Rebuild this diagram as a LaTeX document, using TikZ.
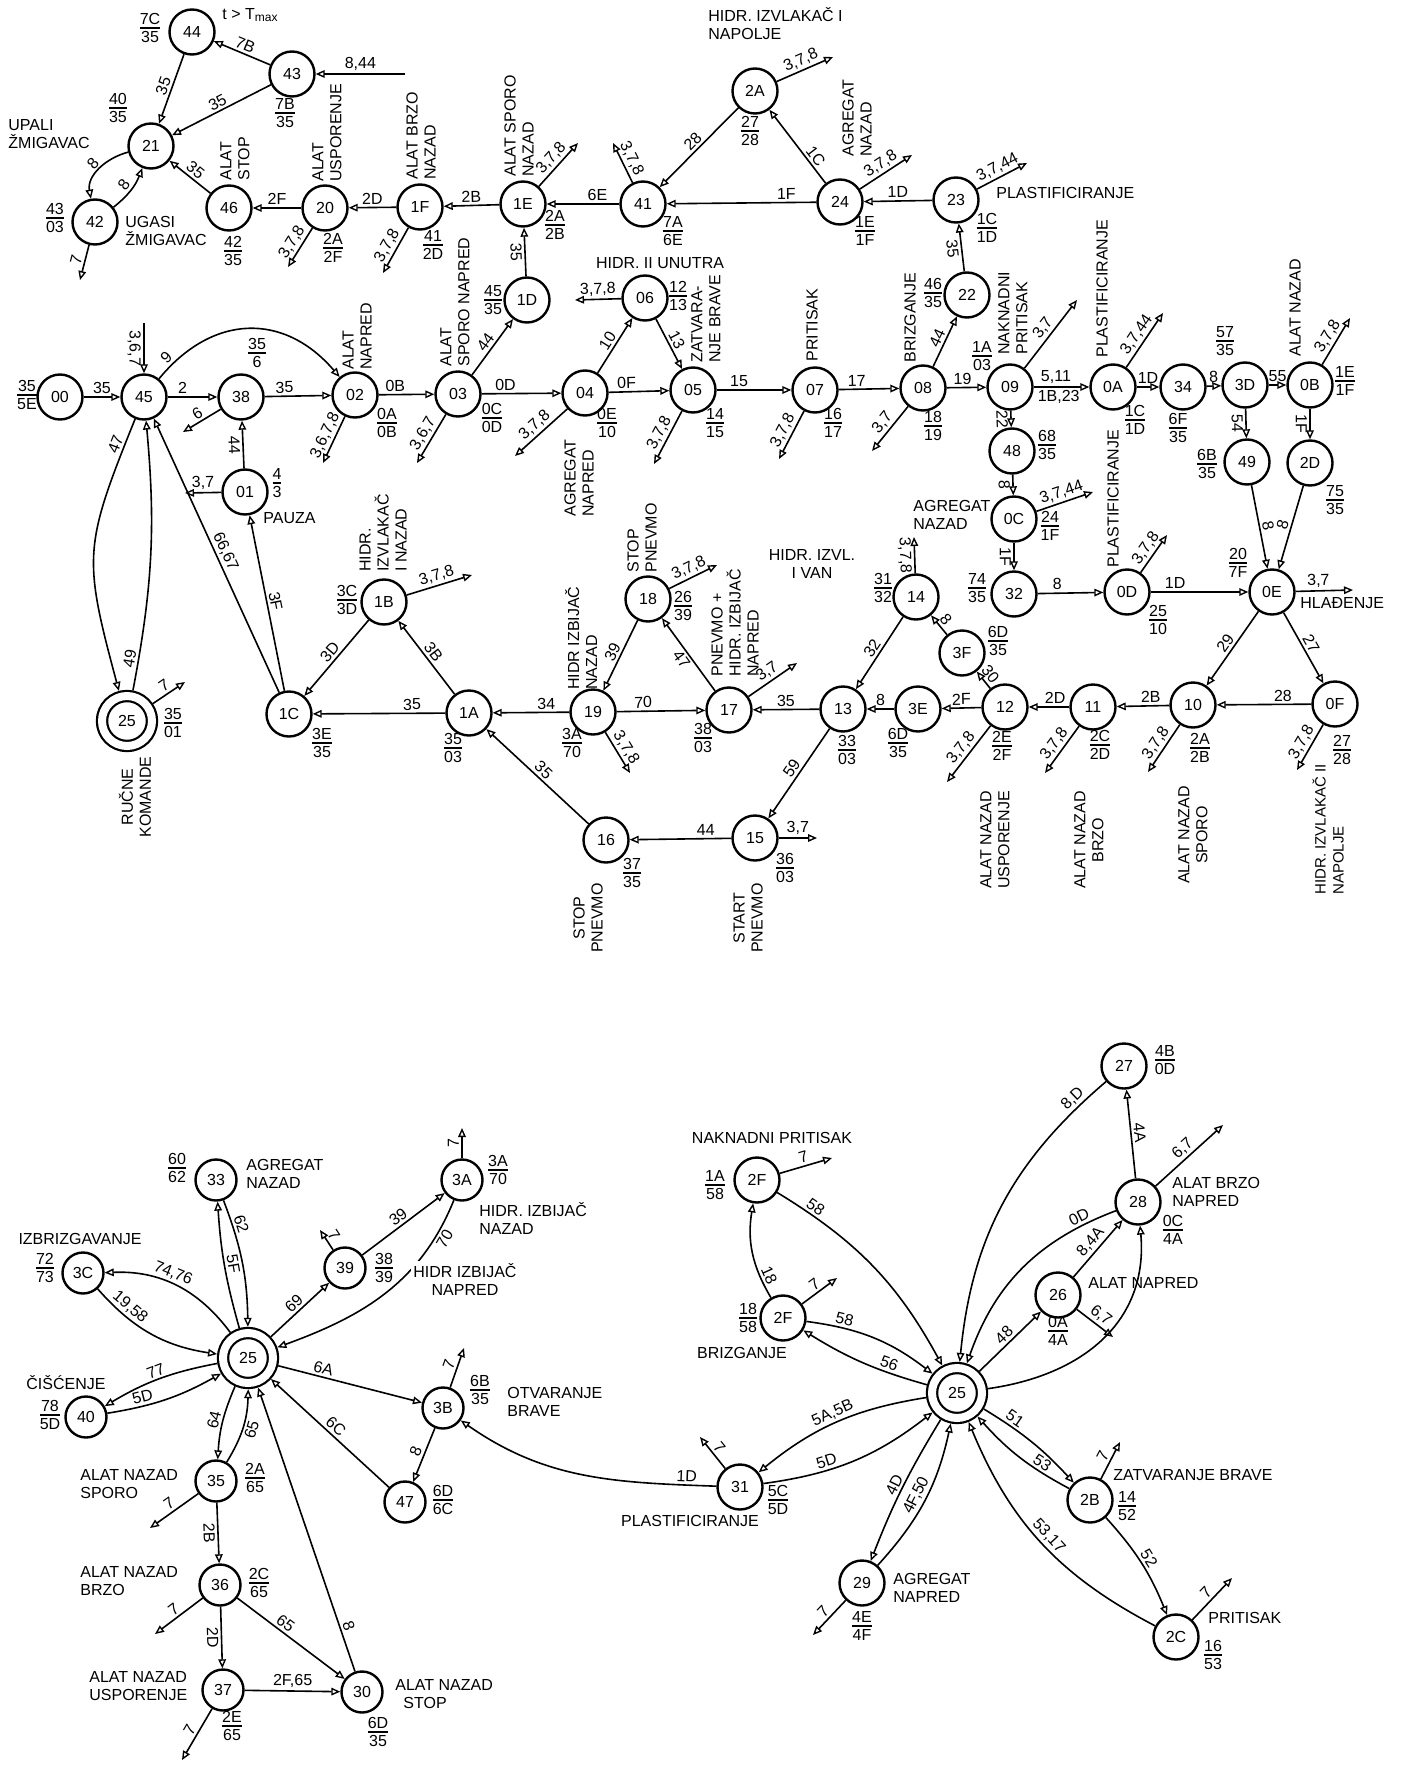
\documentclass[tikz,border=0pt]{standalone}
\usepackage{fontspec}
\setmainfont{Liberation Sans}
\usetikzlibrary{arrows.meta}
\setlength\arrayrulewidth{0.7pt}
\newcommand\frc[2]{\begin{tabular}{@{}c@{}}#1\\[-1.5pt]\hline\rule{0pt}{6.8pt}#2\end{tabular}}
\begin{document}
\begin{tikzpicture}[x=0.5pt,y=-0.5pt,font=\fontsize{8}{9}\selectfont,
 st/.style={circle,draw,line width=1.2pt,minimum size=22.5pt,inner sep=0pt},
 sts/.style={circle,draw,line width=1.2pt,minimum size=20.5pt,inner sep=0pt},
 dst/.style={circle,draw,double,double distance=4pt,line width=1.1pt,minimum size=25pt,inner sep=0pt,outer sep=3.1pt},
 ar/.style={line width=0.8pt,-{Triangle[open,length=4.5pt,width=3.8pt,line width=0.7pt]}},
 el/.style={sloped,inner sep=1.2pt},
 fr/.style={inner sep=0pt},
 vt/.style={rotate=90,align=left,anchor=west,inner sep=0pt},
 vtc/.style={rotate=90,align=center,inner sep=0pt},
 tx/.style={align=left,anchor=west,inner sep=0pt},
 tc/.style={align=center,inner sep=0pt}]
\fill[white] (0,0) rectangle (1404,1776);
\useasboundingbox (0,0) rectangle (1404,1776);
% ================= TOP: states
\node[st] (n44) at (192,32) {44};
\node[st] (n43) at (292,74) {43};
\node[st] (n21) at (151,146) {21};
\node[st] (n42) at (95,222) {42};
\node[st] (n46) at (229,208) {46};
\node[st] (n20) at (325,208) {20};
\node[st] (n1F) at (420,207) {1F};
\node[st] (n1E) at (523,204) {1E};
\node[st] (n41) at (643,204) {41};
\node[st] (n2A) at (755,91) {2A};
\node[st] (n24) at (840,202) {24};
\node[st] (n23) at (956,200) {23};
\node[st] (n22) at (967,295) {22};
\node[st] (n1D) at (527,300) {1D};
\node[st] (n06) at (645,298) {06};
\node[st] (n00) at (60,397) {00};
\node[st] (n45) at (144,397) {45};
\node[st] (n38) at (241,397) {38};
\node[st] (n02) at (355,395) {02};
\node[st] (n03) at (458,394) {03};
\node[st] (n04) at (585,393) {04};
\node[st] (n05) at (693,390) {05};
\node[st] (n07) at (815,390) {07};
\node[st] (n08) at (923,388) {08};
\node[st] (n09) at (1010,387) {09};
\node[st] (n0A) at (1113,387) {0A};
\node[st] (n34) at (1183,387) {34};
\node[st] (n3D) at (1245,385) {3D};
\node[st] (n0B) at (1310,385) {0B};
\node[st] (n48) at (1012,451) {48};
\node[st] (n49) at (1247,462) {49};
\node[st] (n2D) at (1310,463) {2D};
\node[st] (n0C) at (1014,519) {0C};
\node[st] (n32) at (1014,594) {32};
\node[st] (n0D) at (1127,592) {0D};
\node[st] (n0E) at (1272,592) {0E};
\node[st] (n01) at (245,492) {01};
\node[st] (n1B) at (384,602) {1B};
\node[st] (n18) at (648,599) {18};
\node[st] (n14) at (916,597) {14};
\node[st] (n3F) at (962,653) {3F};
\node[st] (n1C) at (289,714) {1C};
\node[st] (n1A) at (469,713) {1A};
\node[st] (n19) at (593,712) {19};
\node[st] (n17) at (729,710) {17};
\node[st] (n13) at (843,709) {13};
\node[st] (n3E) at (918,709) {3E};
\node[st] (n12) at (1005,707) {12};
\node[st] (n11) at (1093,707) {11};
\node[st] (n10) at (1193,705) {10};
\node[st] (n0F) at (1335,704) {0F};
\node[st] (n16) at (606,840) {16};
\node[st] (n15) at (755,838) {15};
\node[dst] (t25) at (127,721) {25};
% free ends (top)
\coordinate (c43) at (405,74);
\coordinate (c42) at (80,280);
\coordinate (c20) at (288,267);
\coordinate (c1F) at (383,273);
\coordinate (c1E) at (578,143);
\coordinate (c41) at (613,143);
\coordinate (c2A) at (833,57);
\coordinate (c24) at (912,155);
\coordinate (c23) at (1027,163);
\coordinate (c06) at (575,300);
\coordinate (c45) at (144,323);
\coordinate (c38) at (183,432);
\coordinate (c02) at (323,463);
\coordinate (c03) at (417,463);
\coordinate (c04) at (515,456);
\coordinate (c05) at (654,464);
\coordinate (c07) at (779,459);
\coordinate (c08) at (872,451);
\coordinate (c09) at (1077,300);
\coordinate (c0A) at (1163,313);
\coordinate (c0B) at (1350,318);
\coordinate (c0C) at (1093,492);
\coordinate (c0D) at (1167,535);
\coordinate (c0E) at (1353,590);
\coordinate (c0F) at (1297,770);
\coordinate (c10) at (1148,772);
\coordinate (c11) at (1045,773);
\coordinate (c12) at (947,782);
\coordinate (c14) at (914,537);
\coordinate (c18) at (717,565);
\coordinate (c17) at (797,663);
\coordinate (c19) at (630,773);
\coordinate (c15) at (817,838);
\coordinate (c1B) at (472,575);
\coordinate (c01) at (185,493);
\coordinate (ct25) at (185,682);
% ================= TOP: transitions
\draw[ar] (n43) -- node[el,above]{7B} (n44);
\draw[ar] (n44) -- node[el,above]{35} (n21);
\draw[ar] (n43) -- node[el,above]{35} (n21);
\draw[ar] (c43) -- node[el,above]{8,44} (n43);
\draw[ar] (n21) to[out=195,in=100] node[el,above]{8} (n42);
\draw[ar] (n42) to[bend right=15] node[el,above]{8} (n21);
\draw[ar] (n46) -- node[el,above]{35} (n21);
\draw[ar] (n20) -- node[el,above]{2F} (n46);
\draw[ar] (n1F) -- node[el,above]{2D} (n20);
\draw[ar] (n1E) -- node[el,above]{2B} (n1F);
\draw[ar] (n42) -- node[el,above]{7} (c42);
\draw[ar] (n20) -- node[el,above]{3,7,8} (c20);
\draw[ar] (n1F) -- node[el,above]{3,7,8} (c1F);
\draw[ar] (n41) -- node[el,above,pos=0.3]{6E} (n1E);
\draw[ar] (n24) -- node[el,above,pos=0.2]{1F} (n41);
\draw[ar] (n2A) -- node[el,above]{28} (n41);
\draw[ar] (n24) -- node[el,above,pos=0.3]{1C} (n2A);
\draw[ar] (n23) -- node[el,above]{1D} (n24);
\draw[ar] (n1E) -- node[el,above]{3,7,8} (c1E);
\draw[ar] (n41) -- node[el,above]{3,7,8} (c41);
\draw[ar] (n2A) -- node[el,above]{3,7,8} (c2A);
\draw[ar] (n24) -- node[el,above]{3,7,8} (c24);
\draw[ar] (n23) -- node[el,above]{3,7,44} (c23);
\draw[ar] (n22) -- node[el,below]{35} (n23);
\draw[ar] (n08) -- node[el,above]{44} (n22);
\draw[ar] (n1D) -- node[el,below]{35} (n1E);
\draw[ar] (n03) -- node[el,above]{44} (n1D);
\draw[ar] (n06) -- node[el,above]{3,7,8} (c06);
\draw[ar] (n04) -- node[el,above]{10} (n06);
\draw[ar] (n06) -- node[el,above]{13} (n05);
\draw[ar] (n00) -- node[el,above]{35} (n45);
\draw[ar] (c45) -- node[el,below]{3,6,7} (n45);
\draw[ar] (n45) -- node[el,above,pos=0.3]{2} (n38);
\draw[ar] (n45) to[bend left=50,looseness=1.2] node[el,above,pos=0.08]{9} (n02);
\draw[ar] (n38) -- node[el,above,pos=0.3]{35} (n02);
\draw[ar] (n38) -- node[el,above]{6} (c38);
\draw[ar] (n02) -- node[el,above,pos=0.3]{0B} (n03);
\draw[ar] (n02) -- node[el,above]{3,6,7,8} (c02);
\draw[ar] (n03) -- node[el,above]{3,6,7} (c03);
\draw[ar] (n03) -- node[el,above,pos=0.3]{0D} (n04);
\draw[ar] (n04) -- node[el,above,pos=0.3]{0F} (n05);
\draw[ar] (n04) -- node[el,above]{3,7,8} (c04);
\draw[ar] (n05) -- node[el,above,pos=0.3]{15} (n07);
\draw[ar] (n05) -- node[el,above]{3,7,8} (c05);
\draw[ar] (n07) -- node[el,above,pos=0.3]{17} (n08);
\draw[ar] (n07) -- node[el,above]{3,7,8} (c07);
\draw[ar] (n08) -- node[el,above,pos=0.4]{19} (n09);
\draw[ar] (n08) -- node[el,above]{3,7} (c08);
\draw[ar] (n09) -- node[el,above,pos=0.4]{5,11} node[el,below,pos=0.45]{1B,23} (n0A);
\draw[ar] (n09) -- node[el,above]{3,7} (c09);
\draw[ar] (n09) -- node[el,below]{22} (n48);
\draw[ar] (n0A) -- node[el,above]{1D} (n34);
\draw[ar] (n0A) -- node[el,above]{3,7,44} (c0A);
\draw[ar] (n34) -- node[el,above]{8} (n3D);
\draw[ar] (n3D) -- node[el,above]{55} (n0B);
\draw[ar] (n0B) -- node[el,above]{3,7,8} (c0B);
\draw[ar] (n3D) -- node[el,below]{54} (n49);
\draw[ar] (n0B) -- node[el,below]{1F} (n2D);
\draw[ar] (n49) -- node[el,above]{8} (n0E);
\draw[ar] (n2D) -- node[el,above]{8} (n0E);
\draw[ar] (n48) -- node[el,below]{8} (n0C);
\draw[ar] (n0C) -- node[el,above]{3,7,44} (c0C);
\draw[ar] (n0C) -- node[el,below]{1F} (n32);
\draw[ar] (n32) -- node[el,above,pos=0.3]{8} (n0D);
\draw[ar] (n0D) -- node[el,above,pos=0.25]{1D} (n0E);
\draw[ar] (n0D) -- node[el,above]{3,7,8} (c0D);
\draw[ar] (n0E) -- node[el,above,pos=0.4]{3,7} (c0E);
\draw[ar] (n0E) -- node[el,above]{29} (n10);
\draw[ar] (n0E) -- node[el,above]{27} (n0F);
\draw[ar] (n0F) -- node[el,above,pos=0.3]{28} (n10);
\draw[ar] (n0F) -- node[el,above]{3,7,8} (c0F);
\draw[ar] (n10) -- node[el,above,pos=0.35]{2B} (n11);
\draw[ar] (n10) -- node[el,above]{3,7,8} (c10);
\draw[ar] (n11) -- node[el,above,pos=0.35]{2D} (n12);
\draw[ar] (n11) -- node[el,above]{3,7,8} (c11);
\draw[ar] (n12) -- node[el,above]{2F} (n3E);
\draw[ar] (n12) -- node[el,above]{30} (n3F);
\draw[ar] (n12) -- node[el,above]{3,7,8} (c12);
\draw[ar] (n3F) -- node[el,above]{8} (n14);
\draw[ar] (n3E) -- node[el,above]{8} (n13);
\draw[ar] (n14) -- node[el,above]{32} (n13);
\draw[ar] (n14) -- node[el,below]{3,7,8} (c14);
\draw[ar] (n13) -- node[el,above]{35} (n17);
\draw[ar] (n13) -- node[el,above]{59} (n15);
\draw[ar] (n15) -- node[el,above,pos=0.25]{44} (n16);
\draw[ar] (n15) -- node[el,above]{3,7} (c15);
\draw[ar] (n16) -- node[el,above]{35} (n1A);
\draw[ar] (n19) -- node[el,above,pos=0.3]{34} (n1A);
\draw[ar] (n19) -- node[el,above,pos=0.3]{70} (n17);
\draw[ar] (n19) -- node[el,above]{3,7,8} (c19);
\draw[ar] (n18) -- node[el,above]{39} (n19);
\draw[ar] (n17) -- node[el,below]{47} (n18);
\draw[ar] (n18) -- node[el,above]{3,7,8} (c18);
\draw[ar] (n17) -- node[el,above]{3,7} (c17);
\draw[ar] (n1A) -- node[el,above,pos=0.25]{35} (n1C);
\draw[ar] (n1A) -- node[el,above]{3B} (n1B);
\draw[ar] (n1B) -- node[el,above]{3D} (n1C);
\draw[ar] (n1B) -- node[el,above]{3,7,8} (c1B);
\draw[ar] (n1C) -- node[el,above]{3F} (n01);
\draw[ar] (n1C) -- node[el,above]{66,67} (n45);
\draw[ar] (n01) -- node[el,below]{44} (n38);
\draw[ar] (n01) -- node[el,above]{3,7} (c01);
\draw[ar] (n45) to[out=-112,in=105,looseness=1.3] node[el,above,pos=0.08]{47} (t25);
\draw[ar] (t25) to[bend right=8] node[el,above,pos=0.1]{49} (n45);
\draw[ar] (t25) -- node[el,above]{7} (ct25);
% ================= TOP: fractions
\node[fr] (f44) at (150,30) {\frc{7C}{35}};
\node[fr] (f43) at (285,115) {\frc{7B}{35}};
\node[fr] (f21) at (118,110) {\frc{40}{35}};
\node[fr] (f42) at (55,220) {\frc{43}{03}};
\node[fr] (f46) at (233,253) {\frc{42}{35}};
\node[fr] (f20) at (333,250) {\frc{2A}{2F}};
\node[fr] (f1F) at (433,247) {\frc{41}{2D}};
\node[fr] (f1E) at (555,227) {\frc{2A}{2B}};
\node[fr] (f41) at (673,233) {\frc{7A}{6E}};
\node[fr] (f2A) at (750,133) {\frc{27}{28}};
\node[fr] (f24) at (865,233) {\frc{1E}{1F}};
\node[fr] (f23) at (987,230) {\frc{1C}{1D}};
\node[fr] (f22) at (933,295) {\frc{46}{35}};
\node[fr] (f1D) at (493,302) {\frc{45}{35}};
\node[fr] (f06) at (678,298) {\frc{12}{13}};
\node[fr] (f00) at (27,397) {\frc{35}{5E}};
\node[fr] (f38) at (257,355) {\frc{35}{6}};
\node[fr] (f02) at (387,425) {\frc{0A}{0B}};
\node[fr] (f03) at (492,420) {\frc{0C}{0D}};
\node[fr] (f04) at (607,425) {\frc{0E}{10}};
\node[fr] (f05) at (715,425) {\frc{14}{15}};
\node[fr] (f07) at (833,425) {\frc{16}{17}};
\node[fr] (f08) at (933,428) {\frc{18}{19}};
\node[fr] (f09) at (982,358) {\frc{1A}{03}};
\node[fr] (f48) at (1047,447) {\frc{68}{35}};
\node[fr] (f0A) at (1135,422) {\frc{1C}{1D}};
\node[fr] (f3D) at (1225,343) {\frc{57}{35}};
\node[fr] (f34) at (1178,430) {\frc{6F}{35}};
\node[fr] (f0B) at (1345,383) {\frc{1E}{1F}};
\node[fr] (f49) at (1207,466) {\frc{6B}{35}};
\node[fr] (f2D) at (1335,502) {\frc{75}{35}};
\node[fr] (f0C) at (1050,528) {\frc{24}{1F}};
\node[fr] (f32) at (977,590) {\frc{74}{35}};
\node[fr] (f0D) at (1158,622) {\frc{25}{10}};
\node[fr] (f0E) at (1238,565) {\frc{20}{7F}};
\node[fr] (f0F) at (1342,752) {\frc{27}{28}};
\node[fr] (f10) at (1200,750) {\frc{2A}{2B}};
\node[fr] (f11) at (1100,747) {\frc{2C}{2D}};
\node[fr] (f12) at (1002,748) {\frc{2E}{2F}};
\node[fr] (f3F) at (998,643) {\frc{6D}{35}};
\node[fr] (f3E) at (898,745) {\frc{6D}{35}};
\node[fr] (f13) at (847,752) {\frc{33}{03}};
\node[fr] (f14) at (883,590) {\frc{31}{32}};
\node[fr] (f15) at (785,870) {\frc{36}{03}};
\node[fr] (f16) at (632,875) {\frc{37}{35}};
\node[fr] (f19) at (572,745) {\frc{3A}{70}};
\node[fr] (f17) at (703,740) {\frc{38}{03}};
\node[fr] (f18) at (683,608) {\frc{26}{39}};
\node[fr] (f1A) at (453,750) {\frc{35}{03}};
\node[fr] (f1C) at (322,745) {\frc{3E}{35}};
\node[fr] (f1B) at (347,602) {\frc{3C}{3D}};
\node[fr] (f01) at (277,485) {\frc{4}{3}};
\node[fr] (ft25) at (173,725) {\frc{35}{01}};
% ================= TOP: texts
\node[tx] (x1) at (222,15) {t > T\textsubscript{max}};
\node[tx] (x2) at (8,134) {UPALI\\ŽMIGAVAC};
\node[tx] (x3) at (125,231) {UGASI\\ŽMIGAVAC};
\node[vt] (x4) at (235,181) {ALAT\\STOP};
\node[vt] (x5) at (327,182) {ALAT\\USPORENJE};
\node[vt] (x6) at (421,180) {ALAT BRZO\\NAZAD};
\node[vt] (x7) at (519,177) {ALAT SPORO\\NAZAD};
\node[tx] (x8) at (708,24) {HIDR. IZVLAKAČ I\\NAPOLJE};
\node[vt] (x9) at (857,157) {AGREGAT\\NAZAD};
\node[tx] (x10) at (996,193) {PLASTIFICIRANJE};
\node[tc] (x11) at (660,263) {HIDR. II UNUTRA};
\node[vt] (x12) at (706,363) {ZATVARA-\\NJE BRAVE};
\node[vt] (x13) at (812,362) {PRITISAK};
\node[vt] (x14) at (910,363) {BRIZGANJE};
\node[vt] (x15) at (1013,355) {NAKNADNI\\PRITISAK};
\node[vt] (x16) at (1102,358) {PLASTIFICIRANJE};
\node[vt] (x17) at (1295,357) {ALAT NAZAD};
\node[vt] (x18) at (357,370) {ALAT\\NAPRED};
\node[vt] (x19) at (455,367) {ALAT\\SPORO NAPRED};
\node[vt] (x20) at (579,517) {AGREGAT\\NAPRED};
\node[tx] (x21) at (263,518) {PAUZA};
\node[vt] (x22) at (383,572) {HIDR.\\IZVLAKAČ\\I NAZAD};
\node[tx] (x23) at (913,515) {AGREGAT\\NAZAD};
\node[tc] (x24) at (812,564) {HIDR. IZVL.\\I VAN};
\node[vt] (x25) at (642,573) {STOP\\PNEVMO};
\node[vt] (x26) at (581,690) {HIDR IZBIJAČ\\NAZAD};
\node[vt] (x27) at (735,677) {PNEVMO +\\HIDR. IZBIJAČ\\NAPRED};
\node[vt] (x28) at (1113,568) {PLASTIFICIRANJE};
\node[tx] (x29) at (1300,603) {HLAĐENJE};
\node[vtc] (x30) at (135,797) {RUČNE\\KOMANDE};
\node[vtc] (x31) at (588,918) {STOP\\PNEVMO};
\node[vtc] (x32) at (748,918) {START\\PNEVMO};
\node[vtc] (x33) at (995,840) {ALAT NAZAD\\USPORENJE};
\node[vtc] (x34) at (1089,840) {ALAT NAZAD\\BRZO};
\node[vtc] (x35) at (1193,835) {ALAT NAZAD\\SPORO};
\node[vt,font=\fontsize{7.5}{9}\selectfont] (x36) at (1328,895) {HIDR. IZVLAKAČ II\\NAPOLJE};
% ================= BOTTOM: states
\node[sts] (m33) at (216,1180) {33};
\node[sts] (m3A) at (462,1180) {3A};
\node[sts] (m39) at (345,1268) {39};
\node[sts] (m3C) at (83,1273) {3C};
\node[dst] (b25) at (248,1358) {25};
\node[sts] (m3B) at (443,1408) {3B};
\node[sts] (m40) at (86,1417) {40};
\node[sts] (m35) at (216,1481) {35};
\node[sts] (m47) at (405,1502) {47};
\node[sts] (m36) at (220,1585) {36};
\node[sts] (m37) at (223,1690) {37};
\node[sts] (m30) at (362,1692) {30};
\node[st] (m2F) at (757,1180) {2F};
\node[st] (m2Fb) at (783,1318) {2F};
\node[dst] (c25) at (957,1393) {25};
\node[st] (m31) at (740,1487) {31};
\node[st] (m29) at (862,1583) {29};
\node[st] (m27) at (1124,1066) {27};
\node[st] (m28) at (1138,1202) {28};
\node[st] (m26) at (1058,1295) {26};
\node[st] (m2B) at (1090,1500) {2B};
\node[st] (m2C) at (1176,1637) {2C};
\coordinate (k39) at (320,1230);
\coordinate (k3A) at (462,1128);
\coordinate (k3B) at (464,1348);
\coordinate (k35) at (150,1528);
\coordinate (k36) at (155,1634);
\coordinate (k37) at (182,1760);
\coordinate (k2F) at (832,1158);
\coordinate (k2Fb) at (837,1278);
\coordinate (k31) at (700,1437);
\coordinate (k29) at (813,1635);
\coordinate (k28) at (1223,1125);
\coordinate (k26) at (1113,1337);
\coordinate (k2B) at (1120,1442);
\coordinate (k2C) at (1232,1578);
% ================= BOTTOM: transitions (left)
\draw[ar] (b25) to[bend left=6] node[el,above]{5F} (m33);
\draw[ar] (m33) to[bend left=10] node[el,above,pos=0.2]{62} (b25);
\draw[ar] (b25) to[bend right=28] node[el,above,pos=0.55]{74,76} (m3C);
\draw[ar] (m3C) to[bend right=20] node[el,above,pos=0.25]{19,58} (b25);
\draw[ar] (b25) -- node[el,above]{69} (m39);
\draw[ar] (m39) -- node[el,above]{39} (m3A);
\draw[ar] (m3A) to[out=-112,in=20] node[el,below,pos=0.15]{70} (b25);
\draw[ar] (m39) -- node[el,above]{7} (k39);
\draw[ar] (m3A) -- node[el,above]{7} (k3A);
\draw[ar] (b25) -- node[el,above,pos=0.3]{6A} (m3B);
\draw[ar] (m3B) -- node[el,above]{8} (m47);
\draw[ar] (m3B) -- node[el,above]{7} (k3B);
\draw[ar] (m47) -- node[el,above]{6C} (b25);
\draw[ar] (b25) to[bend right=10] node[el,above]{77} (m40);
\draw[ar] (m40) to[bend right=10] node[el,above,pos=0.3]{5D} (b25);
\draw[ar] (b25) to[bend right=10] node[el,above]{64} (m35);
\draw[ar] (m35) to[bend right=15] node[el,below]{65} (b25);
\draw[ar] (m35) -- node[el,above]{7} (k35);
\draw[ar] (m35) -- node[el,below]{2B} (m36);
\draw[ar] (m36) -- node[el,above]{7} (k36);
\draw[ar] (m36) -- node[el,below]{2D} (m37);
\draw[ar] (m36) -- node[el,above,pos=0.4]{65} (m30);
\draw[ar] (m37) -- node[el,above]{2F,65} (m30);
\draw[ar] (m37) -- node[el,above]{7} (k37);
\draw[ar] (m30) -- node[el,above,pos=0.15]{8} (b25);
\draw[ar] (m31) to[out=178,in=-35] node[el,above,pos=0.1]{1D} (m3B);
% ================= BOTTOM: transitions (right)
\draw[ar] (m2F) to[bend left=15] node[el,above,pos=0.15]{58} (c25);
\draw[ar] (m2F) -- node[el,above]{7} (k2F);
\draw[ar] (m2Fb) to[bend left=20] node[el,above,pos=0.2]{18} (m2F);
\draw[ar] (m2Fb) -- node[el,above]{7} (k2Fb);
\draw[ar] (m2Fb) to[bend left=15] node[el,above,pos=0.25]{58} (c25);
\draw[ar] (c25) to[bend left=8] node[el,above,pos=0.3]{56} (m2Fb);
\draw[ar] (c25) to[bend right=15] node[el,above]{5A,5B} (m31);
\draw[ar] (m31) to[bend right=15] node[el,above,pos=0.35]{5D} (c25);
\draw[ar] (m31) -- node[el,above]{7} (k31);
\draw[ar] (c25) to[bend right=5] node[el,above]{4D} (m29);
\draw[ar] (m29) to[bend right=15] node[el,above]{4F,50} (c25);
\draw[ar] (m29) -- node[el,above]{7} (k29);
\draw[ar] (c25) -- node[el,above]{48} (m26);
\draw[ar] (m26) -- node[el,above]{8,4A} (m28);
\draw[ar] (m26) -- node[el,above]{6,7} (k26);
\draw[ar] (c25) to[out=8,in=-85,looseness=1.1] (m28);
\draw[ar] (m28) to[bend right=25] node[el,above,pos=0.15]{0D} (c25);
\draw[ar] (m27) to[bend right=22] node[el,above,pos=0.1]{8,D} (c25);
\draw[ar] (m28) -- node[el,above]{4A} (m27);
\draw[ar] (m28) -- node[el,above]{6,7} (k28);
\draw[ar] (c25) to[bend left=8] node[el,above,pos=0.25]{51} (m2B);
\draw[ar] (m2B) to[bend left=10] node[el,above,pos=0.3]{53} (c25);
\draw[ar] (m2B) -- node[el,above]{7} (k2B);
\draw[ar] (m2B) to[bend left=10] node[el,above]{52} (m2C);
\draw[ar] (m2C) to[bend left=20] node[el,above]{53,17} (c25);
\draw[ar] (m2C) -- node[el,above]{7} (k2C);
% ================= BOTTOM: fractions
\node[fr] (g33) at (177,1170) {\frc{60}{62}};
\node[fr] (g3A) at (498,1172) {\frc{3A}{70}};
\node[fr] (g39) at (384,1270) {\frc{38}{39}};
\node[fr] (g3C) at (45,1270) {\frc{72}{73}};
\node[fr] (g40) at (50,1417) {\frc{78}{5D}};
\node[fr] (g35) at (255,1480) {\frc{2A}{65}};
\node[fr] (g36) at (259,1585) {\frc{2C}{65}};
\node[fr] (g37) at (232,1728) {\frc{2E}{65}};
\node[fr] (g30) at (378,1734) {\frc{6D}{35}};
\node[fr] (g47) at (443,1502) {\frc{6D}{6C}};
\node[fr] (g3B) at (480,1392) {\frc{6B}{35}};
\node[fr] (g2F) at (715,1187) {\frc{1A}{58}};
\node[fr] (g2Fb) at (748,1320) {\frc{18}{58}};
\node[fr] (g31) at (778,1502) {\frc{5C}{5D}};
\node[fr] (g29) at (862,1628) {\frc{4E}{4F}};
\node[fr] (g27) at (1165,1062) {\frc{4B}{0D}};
\node[fr] (g28) at (1173,1232) {\frc{0C}{4A}};
\node[fr] (g26) at (1058,1333) {\frc{0A}{4A}};
\node[fr] (g2B) at (1127,1508) {\frc{14}{52}};
\node[fr] (g2C) at (1213,1657) {\frc{16}{53}};
% ================= BOTTOM: texts
\node[tx] (y1) at (246,1174) {AGREGAT\\NAZAD};
\node[tx] (y2) at (479,1218) {HIDR. IZBIJAČ\\NAZAD};
\node[tc,fill=white,inner sep=1pt] (y3) at (465,1279) {HIDR IZBIJAČ\\NAPRED};
\node[tc] (y4) at (80,1239) {IZBRIZGAVANJE};
\node[tc] (y5) at (66,1383) {ČIŠĆENJE};
\node[tx] (y6) at (507,1402) {OTVARANJE\\BRAVE};
\node[tx] (y7) at (80,1484) {ALAT NAZAD\\SPORO};
\node[tx] (y8) at (80,1581) {ALAT NAZAD\\BRZO};
\node[tx] (y9) at (89,1686) {ALAT NAZAD\\USPORENJE};
\node[tx] (y10) at (395,1694) {ALAT NAZAD\\\hspace{4pt}STOP};
\node[tc] (y11) at (772,1138) {NAKNADNI PRITISAK};
\node[tc] (y12) at (742,1353) {BRIZGANJE};
\node[tc] (y13) at (690,1521) {PLASTIFICIRANJE};
\node[tx] (y14) at (893,1588) {AGREGAT\\NAPRED};
\node[tx] (y15) at (1172,1192) {ALAT BRZO\\NAPRED};
\node[tx] (y16) at (1088,1283) {ALAT NAPRED};
\node[tx] (y17) at (1113,1475) {ZATVARANJE BRAVE};
\node[tx] (y18) at (1208,1618) {PRITISAK};
\end{tikzpicture}
\end{document}
